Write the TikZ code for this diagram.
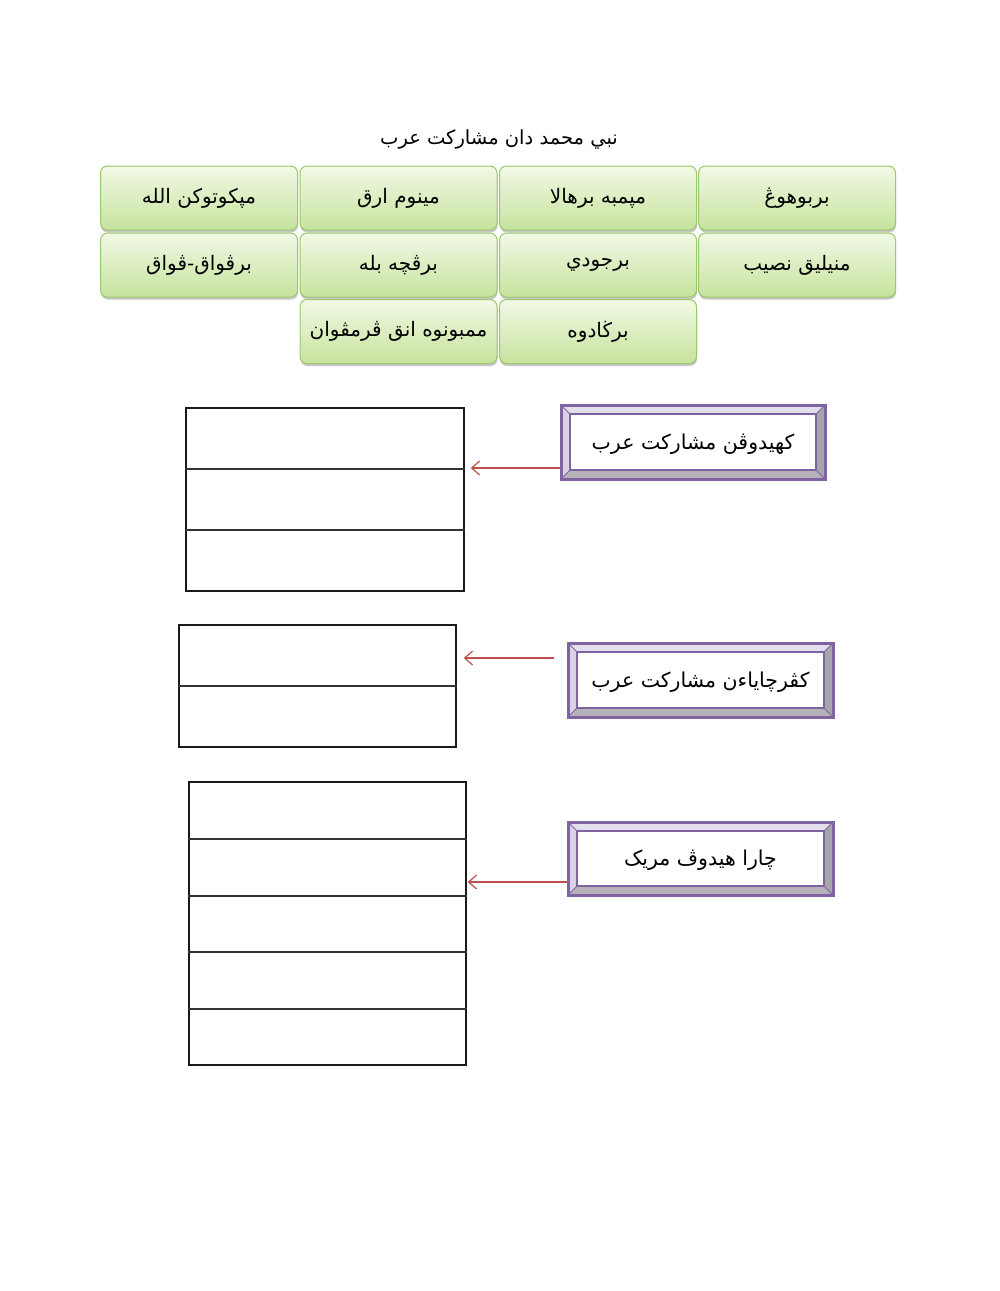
\documentclass[tikz,border=0pt]{standalone}
\usepackage{fontspec}
\newfontfamily\arabicfont[Script=Arabic]{DejaVu Sans}
\TeXXeTstate=1
\usetikzlibrary{shadows,arrows.meta}
\definecolor{gborder}{HTML}{9CC86E}
\definecolor{gtop}{HTML}{F2F9E6}
\definecolor{gbot}{HTML}{C6E39C}
\definecolor{purp}{HTML}{8064A2}
\definecolor{bevtop}{HTML}{E2DEEB}
\definecolor{bevleft}{HTML}{D8D3E5}
\definecolor{bevright}{HTML}{A8A6AD}
\definecolor{bevbot}{HTML}{B5B3B9}
\definecolor{arr}{HTML}{C0504D}
\newcommand\bevelbox[6]{%
  \pgfmathsetmacro\bxa{#2-#4/2}\pgfmathsetmacro\bxb{#2+#4/2}%
  \pgfmathsetmacro\bya{#3-#5/2}\pgfmathsetmacro\byb{#3+#5/2}%
  \pgfmathsetmacro\bwi{#4-18}\pgfmathsetmacro\bhi{#5-18}%
  \fill[bevtop] (\bxa,\bya) -- (\bxb,\bya) -- (\bxb-9,\bya+9) -- (\bxa+9,\bya+9) -- cycle;
  \fill[bevbot] (\bxa,\byb) -- (\bxb,\byb) -- (\bxb-9,\byb-9) -- (\bxa+9,\byb-9) -- cycle;
  \fill[bevleft] (\bxa,\bya) -- (\bxa+9,\bya+9) -- (\bxa+9,\byb-9) -- (\bxa,\byb) -- cycle;
  \fill[bevright] (\bxb,\bya) -- (\bxb-9,\bya+9) -- (\bxb-9,\byb-9) -- (\bxb,\byb) -- cycle;
  \draw[purp, line width=0.8pt] (\bxa,\bya) -- (\bxa+9,\bya+9) (\bxb,\bya) -- (\bxb-9,\bya+9)
     (\bxa,\byb) -- (\bxa+9,\byb-9) (\bxb,\byb) -- (\bxb-9,\byb-9);
  \node[draw=purp, line width=2pt, fill=white, minimum width=\bwi pt, minimum height=\bhi pt,
        inner sep=0pt] (#1text) at (#2,#3) {};
  \node[inner sep=0pt, font=\arabicfont\fontsize{20.5}{23}\selectfont] (#1label) at (#2,#3+2) {#6};
  \node[draw=purp, line width=3pt, minimum width=#4pt, minimum height=#5pt, inner sep=0pt] (#1) at (#2,#3) {};
}
\begin{document}
\begin{tikzpicture}[x=1pt,y=-1pt,
  greenbox/.style={draw=gborder, line width=1pt, rounded corners=7pt, top color=gtop, bottom color=gbot,
     minimum width=197pt, minimum height=64pt, inner sep=0pt,
     drop shadow={shadow xshift=0.5pt, shadow yshift=-2.5pt, opacity=0.4, fill=black!55},
     font=\arabicfont\fontsize{20}{23}\selectfont},
  tbl/.style={draw=black!90, line width=1.4pt, minimum width=#1, inner sep=0pt},
  tbl/.default=277pt,
  rowline/.style={draw=black!80, line width=1.4pt},
  pointer/.style={draw=arr, line width=1.2pt, -{Straight Barb[length=8pt,width=14pt,line width=1.2pt]}},
  title/.style={font=\arabicfont\fontsize{19.5}{22}\selectfont, inner sep=0pt}
]
\useasboundingbox[fill=white] (0,0) rectangle (1000,1291);

\node[title] (ttl) at (499,139) {\beginR نبي محمد دان مشاركت عرب\endR};

% green boxes
\node[greenbox] (g11) at (797,198) {\beginR بربوهوڠ\endR};
\node[greenbox] (g12) at (598,198) {\beginR مپمبه برهالا\endR};
\node[greenbox] (g13) at (398.5,198) {\beginR مينوم ارق\endR};
\node[greenbox] (g14) at (199,198) {\beginR مپكوتوكن  الله\endR};
\node[greenbox] (g21) at (797,265) {\beginR منيليق نصيب\endR};
\node[greenbox] (g22) at (598,265) {\beginR برجودي\endR};
\node[greenbox] (g23) at (398.5,265) {\beginR برڤچه بله\endR};
\node[greenbox] (g24) at (199,265) {\beginR برڤواق-ڤواق\endR};
\node[greenbox] (g32) at (598,331.5) {\beginR برڬادوه\endR};
\node[greenbox] (g33) at (398.5,331.5) {\beginR ممبونوه انق ڤرمڤوان\endR};

% tables
\node[tbl=278pt, minimum height=183pt] (tab1) at (325,499.5) {};
\draw[rowline] (tab1.west |- 0,469) -- (tab1.east |- 0,469);
\draw[rowline] (tab1.west |- 0,530) -- (tab1.east |- 0,530);

\node[tbl, minimum height=122pt] (tab2) at (317.5,686) {};
\draw[rowline] (tab2.west |- 0,686) -- (tab2.east |- 0,686);

\node[tbl, minimum height=283pt] (tab3) at (327.5,923.5) {};
\foreach \yy in {839,896,952,1009}
  \draw[rowline] (tab3.west |- 0,\yy) -- (tab3.east |- 0,\yy);

% bevel boxes
\bevelbox{bx1}{693}{442}{264}{74}{\beginR كهيدوڤن مشاركت عرب\endR}
\bevelbox{bx2}{700.5}{680}{265}{74}{\beginR كڤرچاياءن مشاركت عرب\endR}
\bevelbox{bx3}{700.5}{858.5}{265}{73}{\beginR چارا هيدوڤ مريک\endR}

% arrows
\draw[pointer] (bx1.west |- 0,468) -- ([xshift=6pt]tab1.east |- 0,468);
\draw[pointer] ([xshift=-13pt]bx2.west |- 0,658) -- ([xshift=7pt]tab2.east |- 0,658);
\draw[pointer] (bx3.west |- 0,882) -- ([xshift=1pt]tab3.east |- 0,882);
\end{tikzpicture}
\end{document}
